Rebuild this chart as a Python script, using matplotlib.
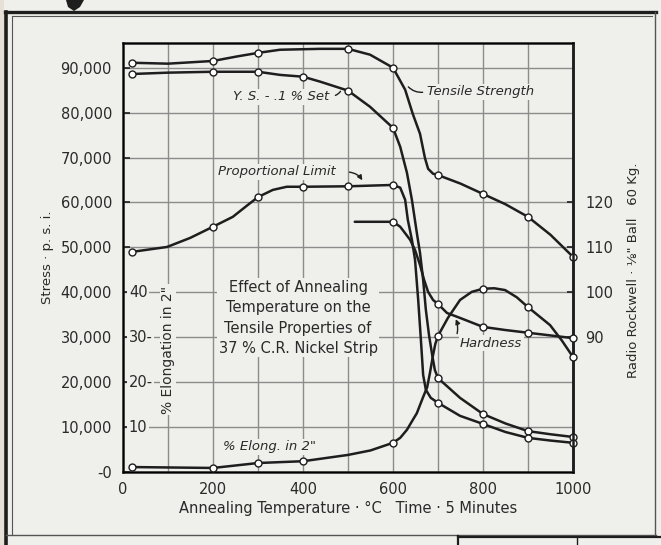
import matplotlib
matplotlib.use('Agg')
import matplotlib.pyplot as plt
from matplotlib.lines import Line2D
from matplotlib.patches import Polygon, Rectangle

# ---- data (temperature in deg C) ----
tens_x = [20, 100, 200, 253, 300, 349, 438, 500, 549, 600, 627, 644, 660, 671, 678, 689, 700,
          750, 800, 850, 900, 950, 1000]
tens_y = [91100, 90900, 91500, 92500, 93300, 94000, 94200, 94200, 92900, 90000, 85100, 79700, 75300,
          69900, 67500, 66400, 66100, 64200, 61900, 59600, 56800, 52800, 47900]
tens_mark = [20, 200, 300, 500, 600, 700, 800, 900, 1000]

ys_x = [20, 100, 200, 300, 349, 400, 438, 500, 549, 600, 616, 631, 642, 653, 660, 667, 673, 680,
        687, 693, 700, 749, 800, 850, 900, 950, 1000]
ys_y = [88600, 88900, 89100, 89100, 88400, 88000, 86900, 84900, 81300, 76600, 72400, 66600, 60600,
        53200, 48800, 42800, 36100, 30500, 26100, 22700, 20900, 16500, 12900, 10800, 9100, 8400, 7800]
ys_mark = [20, 200, 300, 400, 500, 600, 700, 800, 900, 1000]

pl_x = [20, 98, 149, 200, 244, 278, 300, 333, 364, 400, 500, 600, 616, 627, 633, 642, 649, 656,
        662, 667, 673, 684, 700, 749, 800, 850, 900, 950, 1000]
pl_y = [49000, 50100, 52100, 54600, 56800, 59500, 61200, 62800, 63500, 63500, 63600, 63900, 63300,
        60600, 56100, 51700, 47200, 38300, 29400, 21600, 18300, 16500, 15400, 12500, 10700, 8900,
        7600, 7000, 6500]
pl_mark = [20, 200, 300, 400, 500, 600, 700, 800, 900, 1000]

# Rockwell hardness (right axis)
hard_x = [515, 600, 616, 638, 649, 660, 669, 678, 689, 700, 720, 749, 800, 850, 900, 950, 1000]
hard_y = [115.7, 115.7, 114.6, 111.7, 109.4, 106.1, 102.8, 100.1, 98.3, 97.4, 95.4, 94.3, 92.3,
          91.6, 91.0, 90.4, 89.8]
hard_mark = [600, 700, 800, 900, 1000]

# % elongation in 2" (inner left axis)
elong_x = [20, 200, 300, 400, 500, 550, 600, 616, 631, 644, 653, 667, 676, 682, 689, 694, 700,
           722, 749, 775, 800, 825, 849, 875, 900, 949, 975, 1000]
elong_y = [1.1, 0.9, 2.0, 2.4, 3.8, 4.8, 6.5, 7.6, 9.4, 11.6, 13.1, 16.7, 18.9, 22.0, 26.0, 28.5,
           30.3, 34.3, 38.3, 40.1, 40.8, 40.9, 40.5, 38.9, 36.7, 32.7, 29.3, 25.6]
elong_mark = [20, 200, 300, 400, 600, 700, 800, 900, 1000]

stress_ticks = [0, 10000, 20000, 30000, 40000, 50000, 60000, 70000, 80000, 90000]
stress_labels = ['-0', '10,000', '20,000', '30,000', '40,000', '50,000', '60,000', '70,000', '80,000', '90,000']
hard_ticks = [90, 100, 110, 120]
elong_ticks = [10, 20, 30, 40]
elong_labels = ['10', '20-', '30-', '40']
x_ticks = list(range(0, 1001, 100))

BG = '#efefeb'
INK = '#1e1e1e'
TXT = '#2a2a2a'
GRID = '#8c8c8c'

fig = plt.figure(figsize=(6.61, 5.45), dpi=100, facecolor=BG)
ax = fig.add_axes([123 / 661, 1 - 472 / 545, 450 / 661, 429 / 545])
ax.set_facecolor(BG)
ax.set_xlim(0, 1000)
ax.set_ylim(0, 95500)
ax.set_xticks(x_ticks)
ax.set_xticklabels([str(v) if v % 200 == 0 else '' for v in x_ticks], fontsize=10.5, color=TXT)
ax.set_yticks(stress_ticks)
ax.set_yticklabels(stress_labels, fontsize=10.5, color=TXT)
ax.tick_params(axis='x', length=0, pad=7)
ax.tick_params(axis='y', direction='in', length=5, width=1.2, color=INK, pad=8)
ax.grid(True, color=GRID, lw=1.0)
ax.set_axisbelow(True)
for s in ax.spines.values():
    s.set_color(INK)
    s.set_linewidth(1.8)

# hardness axis on the right
axh = ax.twinx()
axh.set_ylim(60, 155.5)
axh.set_yticks(hard_ticks)
axh.set_yticklabels([str(v) for v in hard_ticks], fontsize=10.5, color=TXT)
axh.tick_params(axis='y', direction='in', length=4, width=1.2, color=INK, pad=9)
axh.spines['right'].set_color(INK)
axh.spines['right'].set_linewidth(1.8)

# elongation axis, drawn inside on the left
axe = ax.twinx()
axe.set_ylim(0, 95.5)
axe.axis('off')


def draw(a, xs, ys, marks, z=3):
    a.plot(xs, ys, color=INK, lw=1.8, solid_joinstyle='round', solid_capstyle='round', zorder=z)
    my = [ys[xs.index(v)] for v in marks]
    a.plot(marks, my, 'o', ms=5, mfc='white', mec=INK, mew=1.0, zorder=z + 1, clip_on=False)


draw(ax, tens_x, tens_y, tens_mark)
draw(ax, ys_x, ys_y, ys_mark)
draw(ax, pl_x, pl_y, pl_mark)
draw(axh, hard_x, hard_y, hard_mark)
draw(axe, elong_x, elong_y, elong_mark)

box = dict(facecolor=BG, edgecolor='none', pad=1.0)
for v, lab in zip(elong_ticks, elong_labels):
    axe.text(13, v, lab, fontsize=10.5, color=TXT, ha='left', va='center', bbox=box, zorder=6)
axe.text(100, 27.2, '% Elongation in 2"', rotation=90, fontsize=10, color=TXT,
         ha='center', va='center', bbox=box, zorder=6)

ita = dict(fontsize=9.5, style='italic', color=TXT, bbox=box, zorder=6)
ax.text(244, 83500, 'Y. S. - .1 % Set', ha='left', va='center', **ita)
ax.annotate('', xy=(486, 85300), xytext=(466, 83700),
            arrowprops=dict(arrowstyle='-', color=INK, lw=1.0, connectionstyle='arc3,rad=0.3'))
ax.text(676, 84600, 'Tensile Strength', ha='left', va='center', **ita)
ax.annotate('', xy=(630, 86200), xytext=(672, 84600),
            arrowprops=dict(arrowstyle='-', color=INK, lw=1.0, connectionstyle='arc3,rad=-0.3'))
ax.text(211, 66800, 'Proportional Limit', ha='left', va='center', **ita)
ax.annotate('', xy=(535, 64400), xytext=(497, 66800),
            arrowprops=dict(arrowstyle='-|>', mutation_scale=7, color=INK, lw=1.0,
                            connectionstyle='arc3,rad=-0.3'))
axe.text(222, 5.6, '% Elong. in 2"', ha='left', va='center', **ita)
axh.text(749, 88.7, 'Hardness', ha='left', va='center', **ita)
axh.annotate('', xy=(737, 94.6), xytext=(741, 90.2),
             arrowprops=dict(arrowstyle='-|>', mutation_scale=7, color=INK, lw=1.0,
                             connectionstyle='arc3,rad=0.2'))

ax.text(389, 34300, 'Effect of Annealing\nTemperature on the\nTensile Properties of\n37 % C.R. Nickel Strip',
        ha='center', va='center', fontsize=10.5, color=TXT, linespacing=1.45, bbox=box, zorder=6)

fig.text(348 / 661, 1 - 508 / 545, 'Annealing Temperature · °C   Time · 5 Minutes',
         ha='center', va='center', fontsize=10.5, color=TXT)
fig.text(47 / 661, 1 - 257 / 545, 'Stress · p. s. i.', rotation=90, ha='center', va='center',
         fontsize=9.5, color=TXT)
fig.text(633 / 661, 1 - 270 / 545, 'Radio Rockwell · ⅛" Ball   60 Kg.', rotation=90,
         ha='center', va='center', fontsize=9.5, color=TXT)

# page frame of the scanned figure
def fline(x0, y0, x1, y1, lw, c=INK):
    fig.add_artist(Line2D([x0 / 661, x1 / 661], [1 - y0 / 545, 1 - y1 / 545], color=c, lw=lw))

fline(5, 12, 656, 12, 2.4)
fline(12, 16, 652, 16, 0.8, '#555555')
fline(6, 12, 6, 545, 2.6)
fline(12, 16, 12, 535, 0.8, '#555555')
fline(655, 12, 655, 535, 1.0, '#555555')
fline(6, 535, 656, 535, 1.0, '#555555')
fline(458, 536, 458, 545, 1.6)
fline(458, 537, 661, 537, 1.6)
fline(577, 537, 577, 545, 1.0)
fig.add_artist(Rectangle((0, 0), 4 / 661, 1, transform=fig.transFigure, color='#e6e0d6', lw=0))
fig.add_artist(Polygon([(66 / 661, 1.0), (84 / 661, 1.0), (80 / 661, 1 - 7 / 545), (74 / 661, 1 - 11 / 545),
                        (68 / 661, 1 - 7 / 545)], closed=True, transform=fig.transFigure, color=INK, lw=0))

fig.savefig('out.png', dpi=100, facecolor=BG)
